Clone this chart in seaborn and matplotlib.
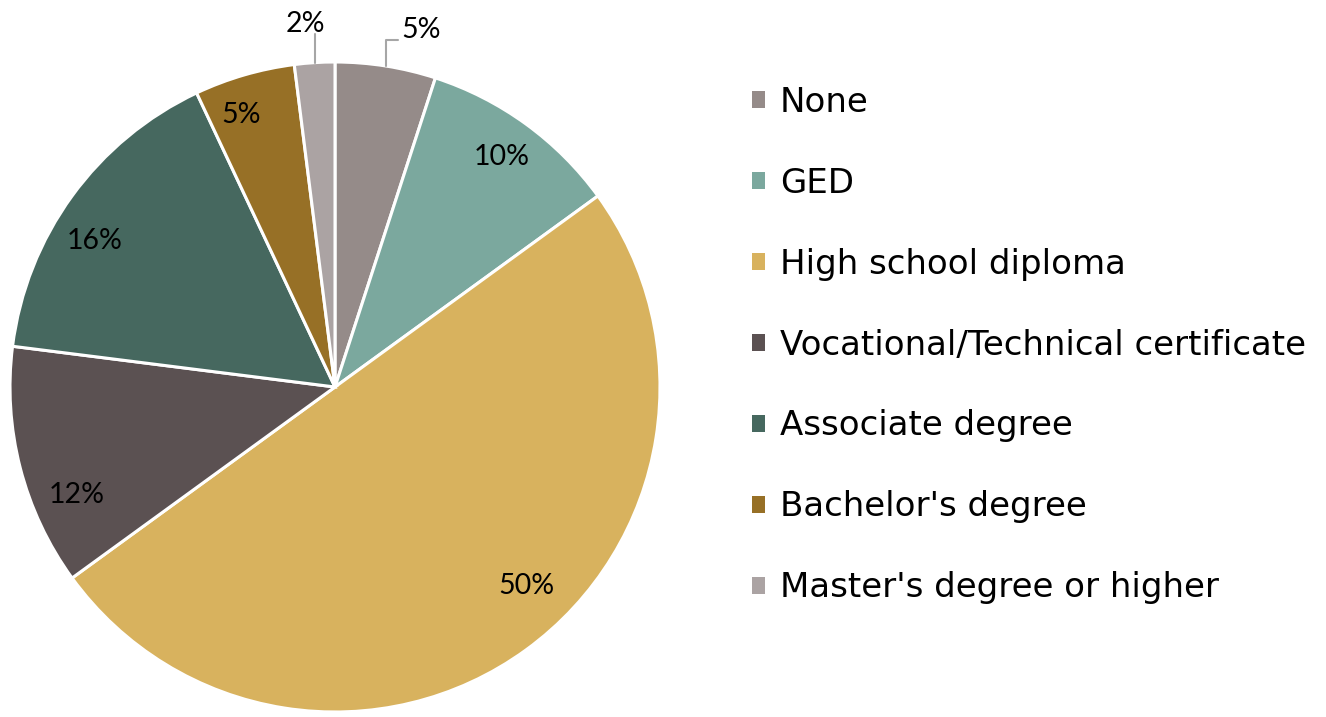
import numpy as np
import seaborn as sns
import matplotlib.pyplot as plt
from matplotlib.patches import Patch

categories = ['None', 'GED', 'High school diploma', 'Vocational/Technical certificate',
              'Associate degree', "Bachelor's degree", "Master's degree or higher"]
shares = [5, 10, 50, 12, 16, 5, 2]
colors = ['#958B89', '#7BA89E', '#D8B25E', '#5B5152', '#46685F', '#977026', '#ABA3A3']

# label placement (fraction of radius, angle nudge in degrees) - mimics the excel "best fit"
label_r = [1.13, 0.875, 0.85, 0.86, 0.865, 0.885, 1.12]
label_shift = [-4.5, 0, 8, 8.3, 4.7, 2.8, 1.0]
outside = [True, False, False, False, False, False, True]

sns.set_theme(style='white')
plt.rcParams['font.family'] = ['Lato', 'DejaVu Sans']
plt.rcParams['text.color'] = 'black'

fig = plt.figure(figsize=(13.26, 7.17), dpi=100)
ax = fig.add_axes([10 / 1326, 5 / 717, 650 / 1326, 650 / 717])

wedges, _ = ax.pie(shares, colors=colors, startangle=90, counterclock=False,
                   wedgeprops=dict(edgecolor='white', linewidth=2.2))
ax.set_xlim(-1, 1)
ax.set_ylim(-1, 1)
ax.set_aspect('equal')
ax.axis('off')

total = sum(shares)
cum = np.cumsum([0] + shares)
for i, v in enumerate(shares):
    mid = 90 - (cum[i] + v / 2) / total * 360
    ang = np.deg2rad(mid + label_shift[i])
    tx, ty = label_r[i] * np.cos(ang), label_r[i] * np.sin(ang)
    t = ax.text(tx, ty, f'{v}%', ha='center', va='center', fontsize=20.5, color='black')
    t.set_clip_on(False)
    if outside[i]:
        ex, ey = np.cos(np.deg2rad(mid)), np.sin(np.deg2rad(mid))
        top = ty - 0.03
        xs, ys = [ex, ex], [ey, top]
        if tx - ex > 0.05:
            xs.append(tx - 0.07)
            ys.append(top)
        ln, = ax.plot(xs, ys, color='#A6A6A6', lw=1.5)
        ln.set_clip_on(False)

handles = [Patch(facecolor=c, edgecolor='none') for c in colors]
leg = fig.legend(handles, categories, loc='center left', bbox_to_anchor=(752 / 1326, 1 - 345 / 717),
                 frameon=False, prop={'family': 'DejaVu Sans', 'size': 24.5},
                 handlelength=0.37, handleheight=0.37, handletextpad=0.45,
                 labelspacing=1.41, borderpad=0, borderaxespad=0)
for txt in leg.get_texts():
    txt.set_color('black')

fig.savefig('out.png', dpi=100)
